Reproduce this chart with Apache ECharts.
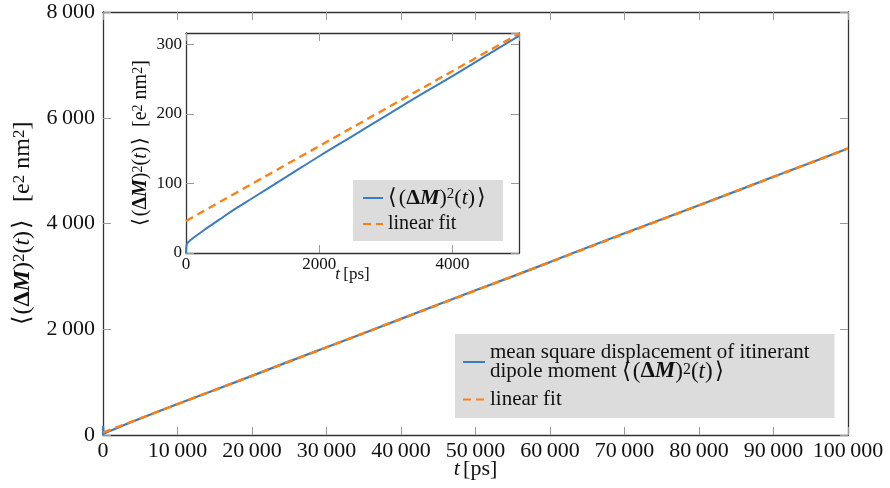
<!DOCTYPE html>
<html>
<head>
<meta charset="utf-8">
<script src="https://cdn.jsdelivr.net/npm/echarts@6/dist/echarts.min.js"></script>
<style>
  html, body { margin: 0; background: #fff; }
  #chart { width: 890px; height: 488px; }
</style>
</head>
<body>
<div id="chart"></div>
<script>
// main plot: mean square displacement over the full run (t in ps)
const mainTime = [0, 20, 60, 300, 1000, 2000, 3000, 4000, 5000, 10000, 15000, 20000, 25000, 30000,
  35000, 40000, 45000, 50000, 55000, 60000, 65000, 70000, 75000, 80000, 85000, 90000, 95000, 100000]
const mainMsd = [0, 170, 22, 35, 79, 139, 197, 254, 312, 586, 852, 1118, 1392, 1660,
  1925, 2196, 2468, 2738, 3000, 3270, 3545, 3815, 4080, 4345, 4612, 4885, 5150, 5420]
const mainFitTime = [0, 100000]
const mainFitMsd = [46, 5420]

// inset: first 5000 ps
const insetTime = [0, 10, 50, 100, 200, 300, 500, 750, 1000, 1500, 2000, 2500, 3000, 3500, 4000, 4500, 5000]
const insetMsd = [0, 12, 17, 21, 28, 35, 48, 64, 79, 109, 139, 168, 197, 226, 254, 283, 312]
const insetFitTime = [0, 5000]
const insetFitMsd = [46, 315]

const FONT = '"Liberation Serif", "Times New Roman", serif'
const BLUE = '#3a7dbf'
const ORANGE = '#ff7f0e'
const FIT_DASH = [8, 5]

const zip = (xs, ys) => xs.map((x, i) => [x, ys[i]])
const thin = v => String(v).replace(/\B(?=(\d{3})+(?!\d))/g, '\u2009')
const plain = v => String(v)

const mathRich = (size, k = 1) => {
  const ms = Math.round(size * k)
  return {
    r: { fontFamily: FONT, fontSize: size, color: '#111' },
    m: { fontFamily: FONT, fontSize: ms, color: '#111' },
    d: { fontFamily: FONT, fontSize: ms, fontWeight: 'bold', color: '#111' },
    b: { fontFamily: FONT, fontSize: ms, fontWeight: 'bold', fontStyle: 'italic', color: '#111' },
    i: { fontFamily: FONT, fontSize: ms, fontStyle: 'italic', color: '#111' },
    s: { fontFamily: FONT, fontSize: Math.round(ms * 0.7), color: '#111', verticalAlign: 'top', lineHeight: Math.round(ms * 0.4) }
  }
}
const msdMath = '{m|⟨\u200a(}{d|Δ}{b|M}{m|)}{s|2}{m|(}{i|t}{m|)\u200a⟩}'
const unitText = '{m|[e}{s|2}{m| nm}{s|2}{m|]}'

const MAIN_NAME = 'mean square displacement of itinerant dipole moment'
const INSET_NAME = 'inset msd'
const FIT_NAME = 'linear fit'

function axisDef(grid, pos, max, interval, labels, extra) {
  return Object.assign({
    type: 'value', gridIndex: grid, position: pos, min: 0, max: max, interval: interval,
    nameMoveOverlap: false,
    axisLine: { show: true, onZero: false, lineStyle: { color: '#333', width: 1.3 } },
    axisTick: { show: true, inside: true, length: 8, lineStyle: { color: '#999', width: 1 } },
    splitLine: { show: false },
    axisLabel: labels
  }, extra)
}

const option = {
  animation: false,
  backgroundColor: '#fff',
  grid: [
    { left: 103, top: 12, right: 42, bottom: 53 },
    { left: 186, top: 33, width: 333, height: 220, show: true, backgroundColor: '#fff', borderWidth: 0, z: 5 }
  ],
  xAxis: [
    axisDef(0, 'bottom', 100000, 10000,
      { show: true, margin: 5, fontFamily: FONT, fontSize: 22, color: '#111', formatter: thin },
      { name: '{i|t} {m|[ps]}', nameLocation: 'middle', nameGap: 23,
        nameTextStyle: { rich: mathRich(22) } }),
    axisDef(0, 'top', 100000, 10000, { show: false }),
    axisDef(1, 'bottom', 5000, 2000,
      { show: true, margin: 3, fontFamily: FONT, fontSize: 17, color: '#111', showMaxLabel: false, formatter: plain },
      { name: '{i|t} {m|[ps]}', nameLocation: 'middle', nameGap: 13, z: 6,
        nameTextStyle: { rich: mathRich(17) } }),
    axisDef(1, 'top', 5000, 2000, { show: false }, { z: 6 })
  ],
  yAxis: [
    axisDef(0, 'left', 8000, 2000,
      { show: true, margin: 8, fontFamily: FONT, fontSize: 22, color: '#111', formatter: thin },
      { name: msdMath + '{m|   }' + unitText, nameLocation: 'middle', nameGap: 68, nameRotate: 90,
        nameTextStyle: { rich: mathRich(24) } }),
    axisDef(0, 'right', 8000, 2000, { show: false }),
    axisDef(1, 'left', 316, 100,
      { show: true, margin: 4, fontFamily: FONT, fontSize: 17, color: '#111', showMaxLabel: false, formatter: plain },
      { name: msdMath + '{m|  }' + unitText, nameLocation: 'middle', nameGap: 35, nameRotate: 90, z: 6,
        nameTextStyle: { rich: mathRich(20) } }),
    axisDef(1, 'right', 316, 100, { show: false }, { z: 6 })
  ],
  legend: [
    {
      data: [MAIN_NAME, FIT_NAME],
      orient: 'vertical', left: 455, top: 334,
      backgroundColor: '#dcdcdc', borderRadius: 0,
      padding: [8, 25, 8, 7], itemGap: 6, itemWidth: 22, itemHeight: 12,
      itemStyle: { opacity: 0 },
      textStyle: { fontFamily: FONT, fontSize: 21, color: '#111', lineHeight: 19, rich: mathRich(21, 1.08) },
      formatter: name => name === MAIN_NAME
        ? '{r|mean square displacement of itinerant}\n{r|dipole moment }' + msdMath
        : '{r|linear fit}'
    },
    {
      data: [INSET_NAME, FIT_NAME],
      orient: 'vertical', left: 353, top: 180, z: 7,
      backgroundColor: '#dcdcdc', borderRadius: 0,
      padding: [7, 17, 7, 9], itemGap: 5, itemWidth: 20, itemHeight: 12,
      itemStyle: { opacity: 0 },
      textStyle: { fontFamily: FONT, fontSize: 20, color: '#111', rich: mathRich(20, 1.1) },
      formatter: name => name === INSET_NAME ? msdMath : '{r|linear fit}'
    }
  ],
  series: [
    { name: MAIN_NAME, type: 'line', xAxisIndex: 0, yAxisIndex: 0, data: zip(mainTime, mainMsd),
      symbol: 'none', lineStyle: { color: BLUE, width: 2.2 }, itemStyle: { color: BLUE }, z: 2 },
    { name: FIT_NAME, type: 'line', xAxisIndex: 0, yAxisIndex: 0, data: zip(mainFitTime, mainFitMsd),
      symbol: 'none', lineStyle: { color: ORANGE, width: 2.5, type: FIT_DASH }, itemStyle: { color: ORANGE }, z: 3 },
    { name: INSET_NAME, type: 'line', xAxisIndex: 2, yAxisIndex: 2, data: zip(insetTime, insetMsd),
      symbol: 'none', smooth: 0.4, lineStyle: { color: BLUE, width: 2 }, itemStyle: { color: BLUE }, z: 6 },
    { name: FIT_NAME, type: 'line', xAxisIndex: 2, yAxisIndex: 2, data: zip(insetFitTime, insetFitMsd),
      symbol: 'none', lineStyle: { color: ORANGE, width: 2.3, type: FIT_DASH }, itemStyle: { color: ORANGE }, z: 6 }
  ]
}

const chart = echarts.init(document.getElementById('chart'))
chart.setOption(option)
</script>
</body>
</html>
